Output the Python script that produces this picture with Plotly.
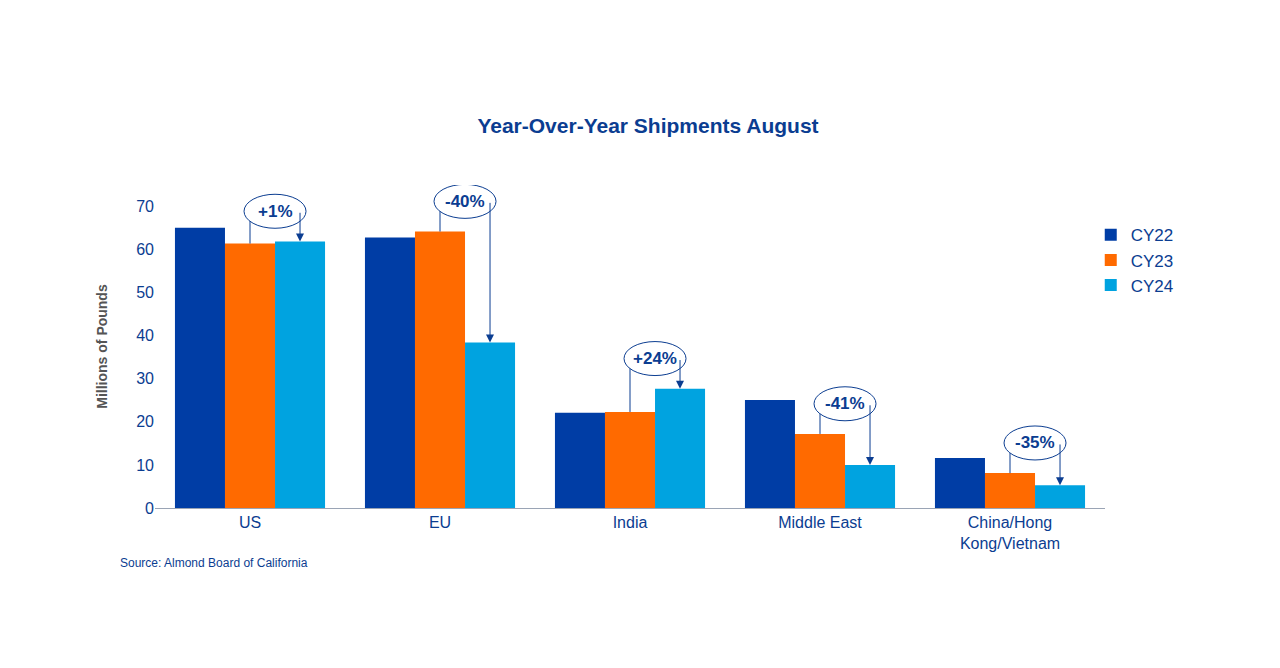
import plotly.graph_objects as go

regions = ["US", "EU", "India", "Middle East", "China/Hong<br>Kong/Vietnam"]
cy22 = [65.1, 62.8, 22.1, 25.1, 11.6]
cy23 = [61.4, 64.2, 22.3, 17.2, 8.1]
cy24 = [61.9, 38.4, 27.7, 10.0, 5.3]
changes = ["+1%", "-40%", "+24%", "-41%", "-35%"]

colors = {"CY22": "#003DA5", "CY23": "#FF6A00", "CY24": "#00A3E0"}
navy = "#0B3D91"
bargap = 0.21
bw = (1 - bargap) / 3

x = list(range(len(regions)))
fig = go.Figure()
for name, vals in [("CY22", cy22), ("CY23", cy23), ("CY24", cy24)]:
    fig.add_trace(go.Bar(x=x, y=vals, name=name, marker_color=colors[name], marker_line_width=0))

shapes, annots = [], []
for i, (a, b, lab) in enumerate(zip(cy23, cy24, changes)):
    x23, x24 = i, i + bw
    lvl = max(a, b) + 7
    shapes.append(dict(type="line", x0=x23, x1=x23, y0=a, y1=lvl, line=dict(color=navy, width=1)))
    shapes.append(dict(type="line", x0=x23, x1=x24, y0=lvl, y1=lvl, line=dict(color=navy, width=1)))
    annots.append(dict(x=x24, y=b, ax=x24, ay=lvl, axref="x", ayref="y", xref="x", yref="y",
                       text="", showarrow=True, arrowhead=2, arrowsize=1.6, arrowwidth=1, arrowcolor=navy))
    shapes.append(dict(type="circle", xref="x", yref="y", xsizemode="pixel", ysizemode="pixel",
                       xanchor=(x23 + x24) / 2, yanchor=lvl, x0=-31, x1=31, y0=-17, y1=17,
                       fillcolor="white", line=dict(color=navy, width=1)))
    annots.append(dict(x=(x23 + x24) / 2, y=lvl, text="<b>%s</b>" % lab, showarrow=False,
                       font=dict(size=17, color=navy)))

annots.append(dict(x=-0.039, y=-0.17, xref="paper", yref="paper", text="Source: Almond Board of California",
                   showarrow=False, font=dict(size=12, color=navy), xanchor="left", yanchor="middle"))

fig.update_layout(
    width=1280, height=668, barmode="group", bargap=bargap, bargroupgap=0,
    plot_bgcolor="white", paper_bgcolor="white",
    font=dict(family="Liberation Sans, Arial", color=navy),
    title=dict(text="<b>Year-Over-Year Shipments August</b>", x=0.5, xanchor="center", y=0.835,
               font=dict(size=21, color=navy)),
    margin=dict(l=147, r=183, t=177, b=168),
    xaxis=dict(range=[-0.5, 4.5], tickvals=x, ticktext=regions, showline=True, linecolor="#9AA4B5",
               tickfont=dict(size=16, color=navy), ticks=""),
    yaxis=dict(range=[0, 75], tickvals=[0, 10, 20, 30, 40, 50, 60, 70], showgrid=False, zeroline=False,
               tickfont=dict(size=16, color=navy),
               title=dict(text="<b>Millions of Pounds</b>", font=dict(size=14, color="#555555"), standoff=25)),
    legend=dict(x=0.985, y=0.9, xanchor="left", yanchor="top", font=dict(size=17, color=navy),
                tracegroupgap=0, itemwidth=30),
    shapes=shapes, annotations=annots,
)
fig.write_html("out.html")
